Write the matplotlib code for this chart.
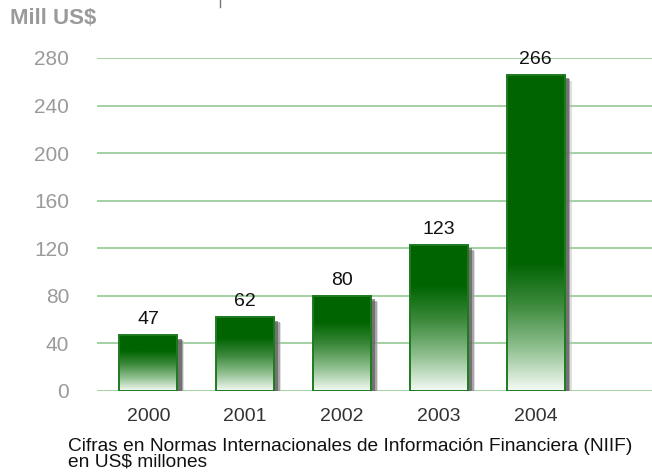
import numpy as np
import matplotlib
matplotlib.use("Agg")
import matplotlib.pyplot as plt
import matplotlib.patheffects as pe
from matplotlib.colors import LinearSegmentedColormap
from matplotlib.lines import Line2D

plt.rcParams['font.family'] = ['Liberation Sans', 'DejaVu Sans']

years = ['2000', '2001', '2002', '2003', '2004']
values = [47, 62, 80, 123, 266]
yticks = [0, 40, 80, 120, 160, 200, 240, 280]

dark = '#006400'
grid_col = '#94c894'
tick_col = '#9a9a9a'

fig = plt.figure(figsize=(6.52, 4.76), dpi=100)
ax = fig.add_axes([0.1488, 0.1786, 0.8512, 0.6996])

x = np.arange(len(years))
w = 0.6

ax.set_xlim(-0.53, 5.2)
ax.set_ylim(0, 280)
ax.set_yticks(yticks)
ax.yaxis.grid(True, color=grid_col, linewidth=1.2)
ax.set_axisbelow(True)
for s in ax.spines.values():
    s.set_visible(False)
ax.tick_params(axis='y', length=0, pad=20, labelsize=15, labelcolor=tick_col)
ax.tick_params(axis='x', length=0, pad=12, labelsize=14, labelcolor='#333333')
ax.set_xticks(x)
ax.set_xticklabels(years)

# shadow + white base
base = ax.bar(x, values, width=w, color='white', edgecolor='none', zorder=2)
for b in base:
    b.set_path_effects([
        pe.SimplePatchShadow(offset=(5, -4.5), shadow_rgbFace='#c0c0c0', alpha=0.5),
        pe.SimplePatchShadow(offset=(4, -3.5), shadow_rgbFace='#808080', alpha=0.6),
        pe.SimplePatchShadow(offset=(3, -2.5), shadow_rgbFace='#505050', alpha=0.6),
        pe.Normal()])

# gradient fill
cmap = LinearSegmentedColormap.from_list('g', ['#f4faf4', '#8fbf8f', '#3d8a3d', dark])
for b, v in zip(base, values):
    fade = min(0.72 * v, 108)
    ys = np.linspace(0, v, 200)
    grad = np.clip(ys / fade, 0, 1)[::-1].reshape(-1, 1)
    x0 = b.get_x()
    im = ax.imshow(grad, cmap=cmap, vmin=0, vmax=1, aspect='auto',
                   extent=(x0, x0 + w, 0, v), zorder=3, interpolation='bilinear')
    im.set_clip_path(b)

ax.bar(x, values, width=w, color='none', edgecolor='#1f7a1f', linewidth=1.4, zorder=4)
ax.set_xlim(-0.53, 5.2)
ax.set_ylim(0, 280)

for xi, v in zip(x, values):
    ax.annotate(str(v), (xi, v), xytext=(0, 5), textcoords='offset points',
                ha='center', va='bottom', fontsize=14, color='#111111', clip_on=False)

fig.text(0.015, 0.962, 'Mill US$', fontsize=16, fontweight='bold', color=tick_col,
         ha='left', va='center')
fig.text(0.105, 0.045, 'Cifras en Normas Internacionales de Información Financiera (NIIF)\nen US$ millones',
         fontsize=13.8, color='#111111', ha='left', va='center', linespacing=0.9)

fig.add_artist(Line2D([0.337, 0.337], [0.985, 1.0], transform=fig.transFigure,
                      color='#777777', linewidth=1))

fig.savefig('out.png', dpi=100)
